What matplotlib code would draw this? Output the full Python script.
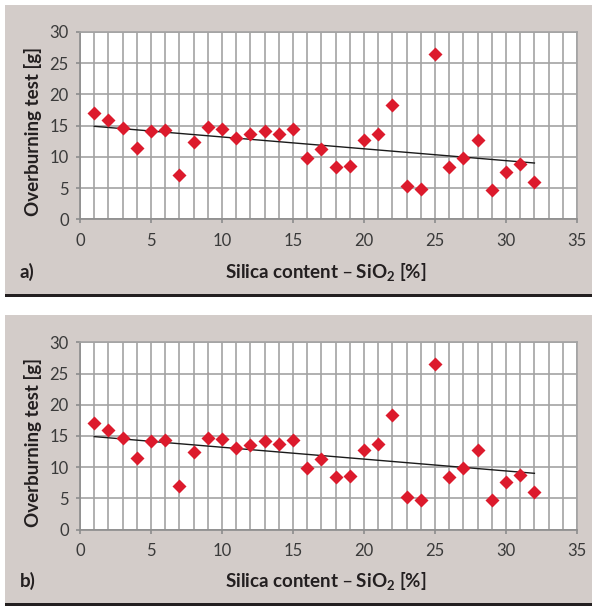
import numpy as np
import matplotlib.pyplot as plt
from matplotlib.patches import Rectangle
from matplotlib.ticker import MultipleLocator

plt.rcParams['font.family'] = ['Lato', 'DejaVu Sans']
plt.rcParams['mathtext.default'] = 'regular'

silica = [1, 2, 3, 4, 5, 6, 7, 8, 9, 10, 11, 12, 13, 14, 15, 16,
          17, 18, 19, 20, 21, 22, 23, 24, 25, 26, 27, 28, 29, 30, 31, 32]
overburn = [17.0, 15.9, 14.65, 11.5, 14.2, 14.3, 7.05, 12.4, 14.75, 14.45, 13.1, 13.6,
            14.2, 13.7, 14.4, 9.85, 11.3, 8.45, 8.55, 12.7, 13.7, 18.3, 5.3, 4.8,
            26.5, 8.35, 9.85, 12.7, 4.7, 7.55, 8.8, 6.0]
panel_tags = ['a)', 'b)']

W, H = 592, 606
bg = '#d3ccc9'
grid_c = '#a3a3a3'
red = '#dc1a2c'
ink = '#231f20'

fig = plt.figure(figsize=(W / 100, H / 100), dpi=100)
fig.patch.set_facecolor('white')

def px(x0, y0, w, h):
    """pixel box (top-left origin) -> figure fraction rect"""
    return [x0 / W, 1 - (y0 + h) / H, w / W, h / H]

# trend line (least squares, as in the spreadsheet)
coef = np.polyfit(silica, overburn, 1)
fit_x = np.array([silica[0], silica[-1]])
fit_y = np.polyval(coef, fit_x)

# grey box top, grey box bottom, plot area top (pixels)
for (top, bot, ptop), tag in zip([(5, 294, 32.0), (315, 603, 342.3)], panel_tags):
    r = px(5, top, W - 5, bot - top)
    fig.patches.append(Rectangle((r[0], r[1]), r[2], r[3], transform=fig.transFigure,
                                 facecolor=bg, edgecolor='none', zorder=-5))
    r = px(5, bot, W - 5, 3)
    fig.patches.append(Rectangle((r[0], r[1]), r[2], r[3], transform=fig.transFigure,
                                 facecolor=ink, edgecolor='none', zorder=-5))

    ax = fig.add_axes(px(80, ptop, 497, 187.3))
    ax.set_facecolor('white')
    ax.set_xlim(0, 35)
    ax.set_ylim(0, 30)
    ax.xaxis.set_major_locator(MultipleLocator(5))
    ax.xaxis.set_minor_locator(MultipleLocator(1))
    ax.yaxis.set_major_locator(MultipleLocator(5))
    ax.grid(True, which='both', axis='x', color=grid_c, lw=1.2)
    ax.grid(True, which='major', axis='y', color=grid_c, lw=1.2)
    ax.set_axisbelow(True)
    for s in ax.spines.values():
        s.set_color(grid_c)
        s.set_linewidth(1.2)
    ax.spines['left'].set_color('#8c8c8c')
    ax.spines['bottom'].set_color('#8c8c8c')
    ax.tick_params(which='major', length=3, width=1.2, color='#8c8c8c',
                   labelsize=12, labelcolor='#3a3a3a')
    ax.tick_params(axis='x', pad=7)
    ax.tick_params(axis='y', pad=5)
    ax.tick_params(which='minor', length=0)

    ax.plot(fit_x, fit_y, color='#1a1a1a', lw=1.0, zorder=2)
    ax.plot(silica, overburn, 'D', color=red, ms=7, mec='none', zorder=3)

    fig.text(33 / W, 1 - (ptop + 100) / H, 'Overburning test [g]', rotation=90,
             ha='center', va='center', fontsize=13.5, fontweight='bold', color=ink)
    fig.text(326 / W, 1 - (bot - 22) / H, 'Silica content \u2013 SiO$_2$ [%]',
             ha='center', va='center', fontsize=13.5, fontweight='bold', color=ink)
    fig.text(20 / W, 1 - (bot - 22) / H, tag, ha='left', va='center',
             fontsize=13.5, fontweight='bold', color=ink)

fig.savefig('out.png', dpi=100)
